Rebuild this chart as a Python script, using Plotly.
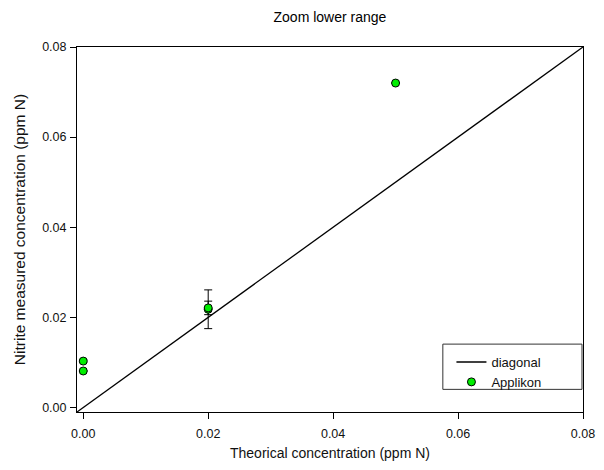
import plotly.graph_objects as go

# Data
diag_x = [-0.001, 0.08]
diag_y = [-0.001, 0.08]

app_x = [0.0, 0.0, 0.02, 0.02, 0.05]
app_y = [0.0103, 0.0081, 0.0218, 0.0221, 0.0720]
app_err = [0.0003, 0.0, 0.0043, 0.0015, 0.0]

tick_vals = [0.0, 0.02, 0.04, 0.06, 0.08]
tick_text = ["0.00", "0.02", "0.04", "0.06", "0.08"]

FONT = "Liberation Sans, Arial, sans-serif"

fig = go.Figure()
fig.add_trace(go.Scatter(
    x=diag_x, y=diag_y, mode="lines", name="diagonal",
    line=dict(color="black", width=1.3),
))
fig.add_trace(go.Scatter(
    x=app_x, y=app_y, mode="markers", name="Applikon",
    marker=dict(color="#00ee00", size=8, line=dict(color="black", width=1)),
    error_y=dict(type="data", array=app_err, visible=True, color="black",
                 thickness=1, width=4),
))

axis_common = dict(
    range=[-0.001, 0.08],
    tickvals=tick_vals, ticktext=tick_text,
    showgrid=False, zeroline=False,
    showline=True, linecolor="black", linewidth=1, mirror=True,
    ticks="outside", ticklen=6, tickcolor="black", tickwidth=1,
    tickfont=dict(family=FONT, size=12.5, color="#111"),
    automargin=False,
)

# legend frame (drawn as a shape in paper coords)
fig.add_shape(type="rect", xref="paper", yref="paper",
              x0=0.723, x1=0.998, y0=0.062, y1=0.186,
              line=dict(color="#333", width=1), fillcolor="white", layer="below")

fig.update_layout(
    width=604, height=470,
    margin=dict(l=69, r=29, t=39, b=66),
    paper_bgcolor="white", plot_bgcolor="white",
    title=dict(text="Zoom lower range", x=0.533, xanchor="center", y=0.981,
               yanchor="middle", font=dict(family=FONT, size=14, color="black")),
    xaxis=dict(**axis_common, ticklabelstandoff=4,
               title=dict(text="Theorical concentration (ppm N)", standoff=8,
                          font=dict(family=FONT, size=14, color="#111"))),
    yaxis=dict(**axis_common, ticklabelstandoff=1,
               title=dict(text="Nitrite measured concentration (ppm N)", standoff=12,
                          font=dict(family=FONT, size=15.5, color="#111"))),
    legend=dict(x=0.74, y=0.178, xanchor="left", yanchor="top",
                borderwidth=0, bgcolor="rgba(0,0,0,0)",
                font=dict(family=FONT, size=13, color="#111"),
                tracegroupgap=0, itemwidth=30),
    showlegend=True,
)

fig.write_html("out.html")
